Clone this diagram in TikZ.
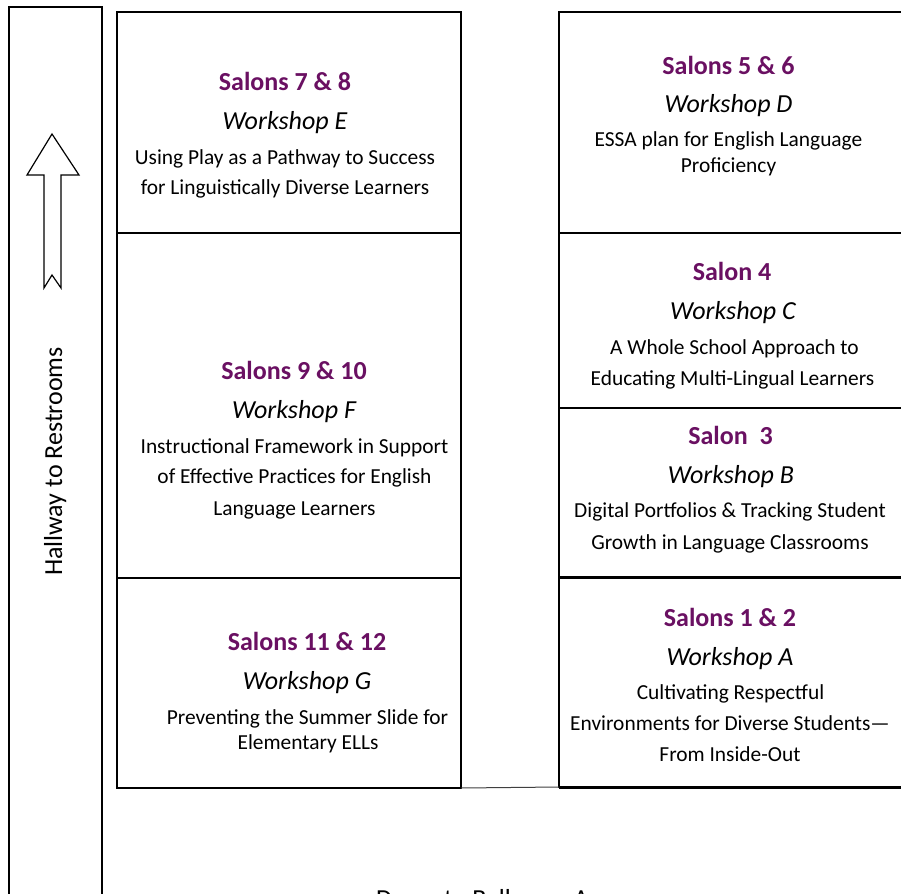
\documentclass[tikz,border=0pt]{standalone}
\usepackage{fontspec}
\setmainfont{Carlito}
\definecolor{salon}{RGB}{106,16,98}
\tikzset{
  room/.style={draw, line width=2pt, rectangle, outer sep=0pt, inner sep=0pt, anchor=north west},
  ttl/.style={font=\fontsize{26}{30}\selectfont\bfseries, text=salon, anchor=base, inner sep=0pt, yshift=-1.5pt},
  wshop/.style={font=\fontsize{26}{30}\selectfont\itshape, anchor=base, inner sep=0pt, yshift=-1.5pt},
  body/.style={font=\fontsize{21.4}{25}\selectfont, anchor=base, inner sep=0pt, yshift=-1.5pt},
  big/.style={font=\fontsize{26}{30}\selectfont, inner sep=0pt},
}
\begin{document}
\begin{tikzpicture}[x=1pt, y=-1pt]
\useasboundingbox (0,0) rectangle (901,893);
\clip (0,0) rectangle (901,893);
\fill[white] (0,0) rectangle (901,893);

% hallway
\node[room, minimum width=93, minimum height=910] (hall) at (9,7) {};
\draw[line width=1.2pt, fill=white] (52,134) -- (79,175) -- (61,175) -- (61,288) -- (52,275) -- (44,288) -- (44,175) -- (27,175) -- cycle;
\node[big, rotate=90, anchor=base] (halltxt) at (62,461.5) {Hallway to Restrooms};

% middle column
\node[room, minimum width=344, minimum height=221] (r78) at (117,12) {};
\node[room, minimum width=344, minimum height=345] (r910) at (117,233) {};
\node[room, minimum width=344, minimum height=210] (r1112) at (117,578) {};

% right column
\node[room, minimum width=360, minimum height=221] (r56) at (559,12) {};
\node[room, minimum width=360, minimum height=175] (r4) at (559,233) {};
\node[room, minimum width=360, minimum height=169] (r3) at (559,408) {};
\node[room, minimum width=360, minimum height=210] (r12) at (559,577) {};
\draw[line width=3pt] (r3.south west) -- (r3.south east);
\draw[line width=3pt] (r12.south west) -- (r12.south east);
\draw[line width=1pt, black!75] (r1112.south east) -- (r12.south west);

% Salons 7 & 8
\node[ttl] (t78) at (285,89.5) {Salons 7 \& 8};
\node[wshop] (w78) at (285,128.5) {Workshop E};
\node[body] (a78) at (285,163.5) {Using Play as a Pathway to Success};
\node[body] (b78) at (285,193.5) {for Linguistically Diverse Learners};

% Salons 9 & 10
\node[ttl] (t910) at (294,378.3) {Salons 9 \& 10};
\node[wshop] (w910) at (294,416.7) {Workshop F};
\node[body] (a910) at (294.5,451.7) {Instructional Framework in Support};
\node[body] (b910) at (294.5,482.3) {of Effective Practices for English};
\node[body] (c910) at (294.5,514.3) {Language Learners};

% Salons 11 & 12
\node[ttl] (t1112) at (307,648.5) {Salons 11 \& 12};
\node[wshop] (w1112) at (307,687.5) {Workshop G};
\node[body] (a1112) at (307.5,722.5) {Preventing the Summer Slide for};
\node[body] (b1112) at (308,747.5) {Elementary ELLs};

% Salons 5 & 6
\node[ttl] (t56) at (728.5,73.5) {Salons 5 \& 6};
\node[wshop] (w56) at (728.5,111.5) {Workshop D};
\node[body] (a56) at (728.5,145.5) {ESSA plan for English Language};
\node[body] (b56) at (728.5,171.5) {Proficiency};

% Salon 4
\node[ttl] (t4) at (732,278.5) {Salon 4};
\node[wshop] (w4) at (733,317.5) {Workshop C};
\node[body] (a4) at (734.5,352.5) {A Whole School Approach to};
\node[body] (b4) at (732.5,383.5) {Educating Multi-Lingual Learners};

% Salon 3
\node[ttl] (t3) at (730.5,442.5) {Salon\ \ 3};
\node[wshop] (w3) at (731,481.5) {Workshop B};
\node[body] (a3) at (730,515.5) {Digital Portfolios \& Tracking Student};
\node[body] (b3) at (730,547.5) {Growth in Language Classrooms};

% Salons 1 & 2
\node[ttl] (t12) at (730,624.5) {Salons 1 \& 2};
\node[wshop] (w12) at (730,663.5) {Workshop A};
\node[body] (a12) at (730.5,697.5) {Cultivating Respectful};
\node[body] (b12) at (730,728.5) {Environments for Diverse Students—};
\node[body] (c12) at (730,759.5) {From Inside-Out};

% doors (cut off by the lower edge, as in the reference)
\node[big, anchor=base west] (doors) at (376,907) {Doors to Ballroom A};
\end{tikzpicture}
\end{document}
